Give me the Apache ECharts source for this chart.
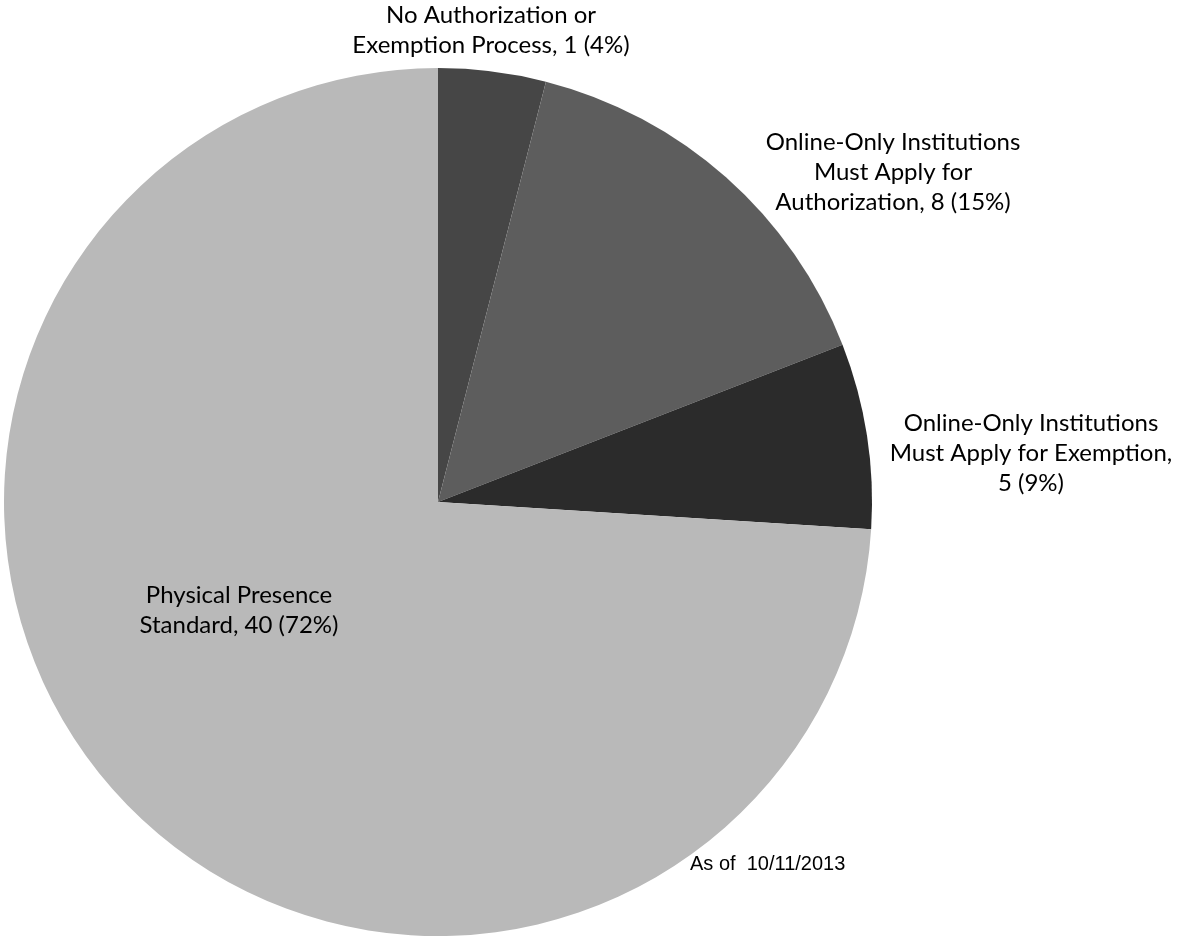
<!DOCTYPE html>
<html>
<head>
<meta charset="utf-8">
<script src="https://cdn.jsdelivr.net/npm/echarts@6/dist/echarts.min.js"></script>
<style>
  body { margin: 0; background: #fff; }
  #main { width: 1184px; height: 940px; }
</style>
</head>
<body>
<div id="main"></div>
<script>
// slice names (with the line breaks the labels use)
const names = [
  'No Authorization or\nExemption Process',
  'Online-Only Institutions\nMust Apply for\nAuthorization',
  'Online-Only Institutions\nMust Apply for Exemption',
  'Physical Presence\nStandard'
]
const counts = [1, 8, 5, 40]
const pctText = [4, 15, 9, 72]
// slice sizes as drawn in the picture (percent of the circle)
const shares = [4, 15.1, 6.9, 74]
const joiners = [', ', ', ', ',\n', ', ']
const colors = ['#464646', '#5d5d5d', '#2b2b2b', '#b9b9b9']
const note = 'As of  10/11/2013'

// label centres
const labelX = [491, 893, 1031, 239]
const labelY = [30, 172, 453, 610]

let myChart = echarts.init(document.getElementById('main'))
let option = {
  backgroundColor: '#ffffff',
  animation: false,
  graphic: [{
    type: 'text',
    left: 690,
    top: 854,
    style: {
      text: note,
      font: '20px "Liberation Sans", Arial, sans-serif',
      fill: '#000'
    }
  }],
  series: [{
    type: 'pie',
    center: [438, 502],
    radius: 434,
    startAngle: 90,
    clockwise: true,
    avoidLabelOverlap: false,
    data: shares.map(function (v, i) {
      return { value: v, name: names[i], itemStyle: { color: colors[i] } }
    }),
    itemStyle: { borderWidth: 0 },
    label: {
      show: true,
      position: 'outside',
      fontFamily: 'Lato, sans-serif',
      fontSize: 24,
      lineHeight: 30,
      color: '#000',
      align: 'center',
      formatter: function (p) {
        let i = p.dataIndex
        return names[i] + joiners[i] + counts[i] + ' (' + pctText[i] + '%)'
      }
    },
    labelLine: { show: false },
    labelLayout: function (params) {
      let i = params.dataIndex
      return { x: labelX[i], y: labelY[i], align: 'center', verticalAlign: 'middle' }
    },
    emphasis: { disabled: true }
  }]
}
myChart.setOption(option)
</script>
</body>
</html>
